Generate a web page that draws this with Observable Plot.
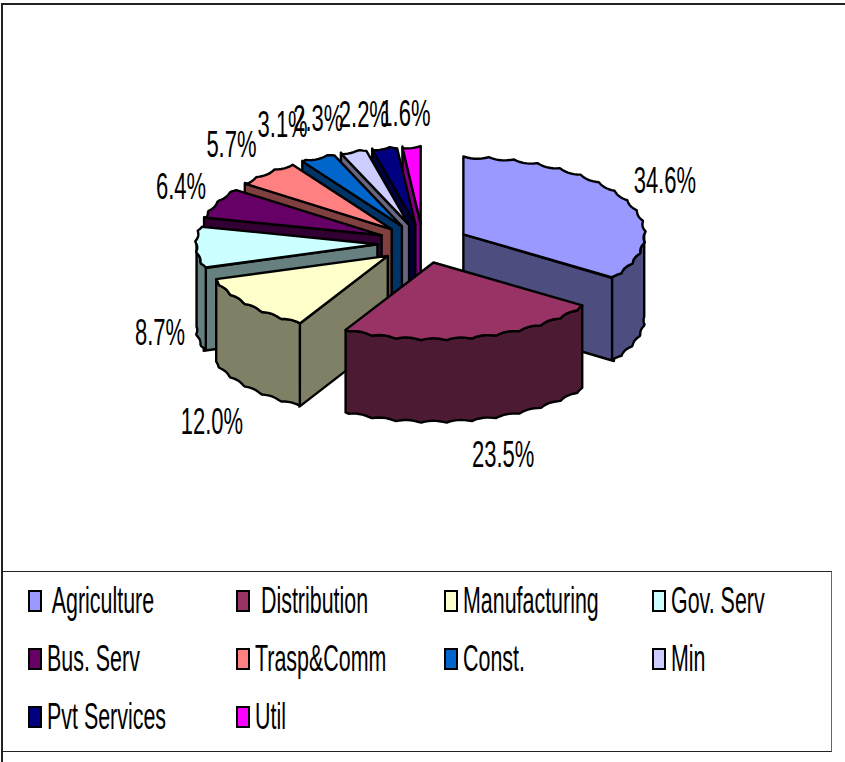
<!DOCTYPE html>
<html>
<head>
<meta charset="utf-8">
<script src="https://cdn.jsdelivr.net/npm/d3@7"></script>
<script src="https://cdn.jsdelivr.net/npm/@observablehq/plot@0.6"></script>
<style>
html,body{margin:0;padding:0;background:#fff;overflow:hidden}
#page{position:relative;width:845px;height:762px;overflow:hidden}
#frame{position:absolute;left:1px;top:3px;width:900px;height:800px;border:2px solid #222;box-sizing:border-box}
#chart{position:absolute;left:0;top:0}
#legend{position:absolute;left:2px;top:571px;width:830px;height:181px;box-sizing:border-box;border:1px solid #222;border-right-color:#666;background:#fff;
 display:grid;grid-template-columns:repeat(4,208px);grid-auto-rows:58px;padding:0 0 0 25px;
 font-family:"Liberation Sans",Arial,sans-serif;font-size:36px;color:#000}
.item{display:flex;align-items:center;position:relative;white-space:pre}
.sw{width:10px;height:18px;border:2px solid #000;flex:none;margin-right:5px}
.lb{display:inline-block;transform:scaleX(.595);transform-origin:left center}
</style>
</head>
<body>
<div id="page"><div id="frame"></div><div id="chart"></div><div id="legend"></div></div>
<script>
const sectors = ["Agriculture","Distribution","Manufacturing","Gov. Serv","Bus. Serv","Trasp&Comm","Const.","Min","Pvt Services","Util"];
const shares = [34.6,23.5,12.0,8.7,6.4,5.7,3.1,2.3,2.2,1.6];
const topColors = ["#9999FF","#993366","#FFFFCC","#CCFFFF","#660066","#FF8080","#0066CC","#CCCCFF","#000080","#FF00FF"];
const wallColors = ["#4D4D80","#4D1A33","#808066","#668080","#330033","#804040","#003366","#666680","#000040","#800080"];
const legendText = [" Agriculture"," Distribution","Manufacturing","Gov. Serv","Bus. Serv","Trasp&Comm","Const.","Min","Pvt Services","Util"];

// pie projection
const cx = 422.5, cy = 243, rx = 182.5, ry = 78, depth = 82.5, explode = 0.25;
const lobe = 8 * Math.PI / 180, lobeDepth = 2.2; // scalloped rim of the low-resolution original
const total = d3.sum(shares);
const ang = v => v / total * 2 * Math.PI;
const px = (ax, t, r = 1) => ax + rx * r * Math.sin(t);
const py = (ay, t, r = 1) => ay - ry * r * Math.cos(t);
const clamp = v => Math.max(-1, Math.min(1, v));

let cum = 0;
const slices = shares.map((v, i) => {
  const t0 = ang(cum), t1 = ang(cum + v); cum += v;
  const mid = (t0 + t1) / 2;
  return {i, v, t0, t1, mid, ax: px(cx, mid, explode), ay: py(cy, mid, explode)};
});

const faces = [];
function addFace(id, fill, pts){ pts.forEach(([x,y]) => faces.push({id, fill, x, y})); }
function arcPts(s, a, b, dy){
  const n = Math.max(2, Math.ceil((b - a) / 0.02));
  return d3.range(n + 1).map(k => {
    const t = a + (b - a) * k / n;
    const f = ((t % lobe) + lobe) % lobe / lobe;
    const inset = lobeDepth * 4 * f * (1 - f);
    return [px(s.ax, t) - inset * Math.sin(t), py(s.ay, t) + inset * Math.cos(t) + dy];
  });
}
d3.sort(slices, s => s.ay).forEach(s => {
  const wall = wallColors[s.i], top = topColors[s.i];
  const edge = t => [[s.ax, s.ay],[px(s.ax,t),py(s.ay,t)],[px(s.ax,t),py(s.ay,t)+depth],[s.ax,s.ay+depth]];
  if (Math.sin(s.t0) < 0) addFace(`${s.i}-a`, wall, edge(s.t0));
  if (Math.sin(s.t1) > 0) addFace(`${s.i}-b`, wall, edge(s.t1));
  const a = Math.max(s.t0, Math.PI / 2), b = Math.min(s.t1, 3 * Math.PI / 2);
  if (b > a) addFace(`${s.i}-c`, wall, [...arcPts(s, a, b, 0), ...arcPts(s, a, b, depth).reverse()]);
  addFace(`${s.i}-t`, top, [[s.ax, s.ay], ...arcPts(s, s.t0, s.t1, 0)]);
});

const labels = slices.map(s => {
  const sn = Math.sin(s.mid), cs = Math.cos(s.mid);
  return {
    text: s.v.toFixed(1) + "%",
    x: px(s.ax, s.mid) + (sn > 0 ? 40 * clamp(3 * sn) : 35 * clamp(3.5 * sn)),
    y: py(s.ay, s.mid) + 1.5 + (cs < 0 ? depth - 33 * clamp(1.6 * cs) : -33 * clamp(1.2 * cs))
  };
});

const plot = Plot.plot({
  width: 845, height: 570, margin: 0,
  style: {background: "transparent", overflow: "visible"},
  x: {domain: [0, 845], range: [0, 845], axis: null},
  y: {domain: [0, 570], range: [0, 570], axis: null},
  marks: [
    Plot.line(faces, {x: "x", y: "y", z: "id", fill: "fill", stroke: "#000", strokeWidth: 2.4, curve: "linear-closed", strokeLinejoin: "round"}),
    Plot.text(labels, {x: "x", y: "y", text: "text", fontSize: 36, fontFamily: "Liberation Sans", fill: "#000", textAnchor: "middle"})
  ]
});
document.getElementById("chart").appendChild(plot);
plot.querySelectorAll("text").forEach(t => {
  const len = t.getComputedTextLength();
  t.setAttribute("lengthAdjust", "spacingAndGlyphs");
  t.setAttribute("textLength", (len * 0.61).toFixed(1));
});

const legend = d3.select("#legend");
sectors.forEach((s, i) => {
  const item = legend.append("div").attr("class", "item");
  item.append("span").attr("class", "sw").style("background", topColors[i]);
  item.append("span").attr("class", "lb").text(legendText[i]);
});
</script>
</body>
</html>
